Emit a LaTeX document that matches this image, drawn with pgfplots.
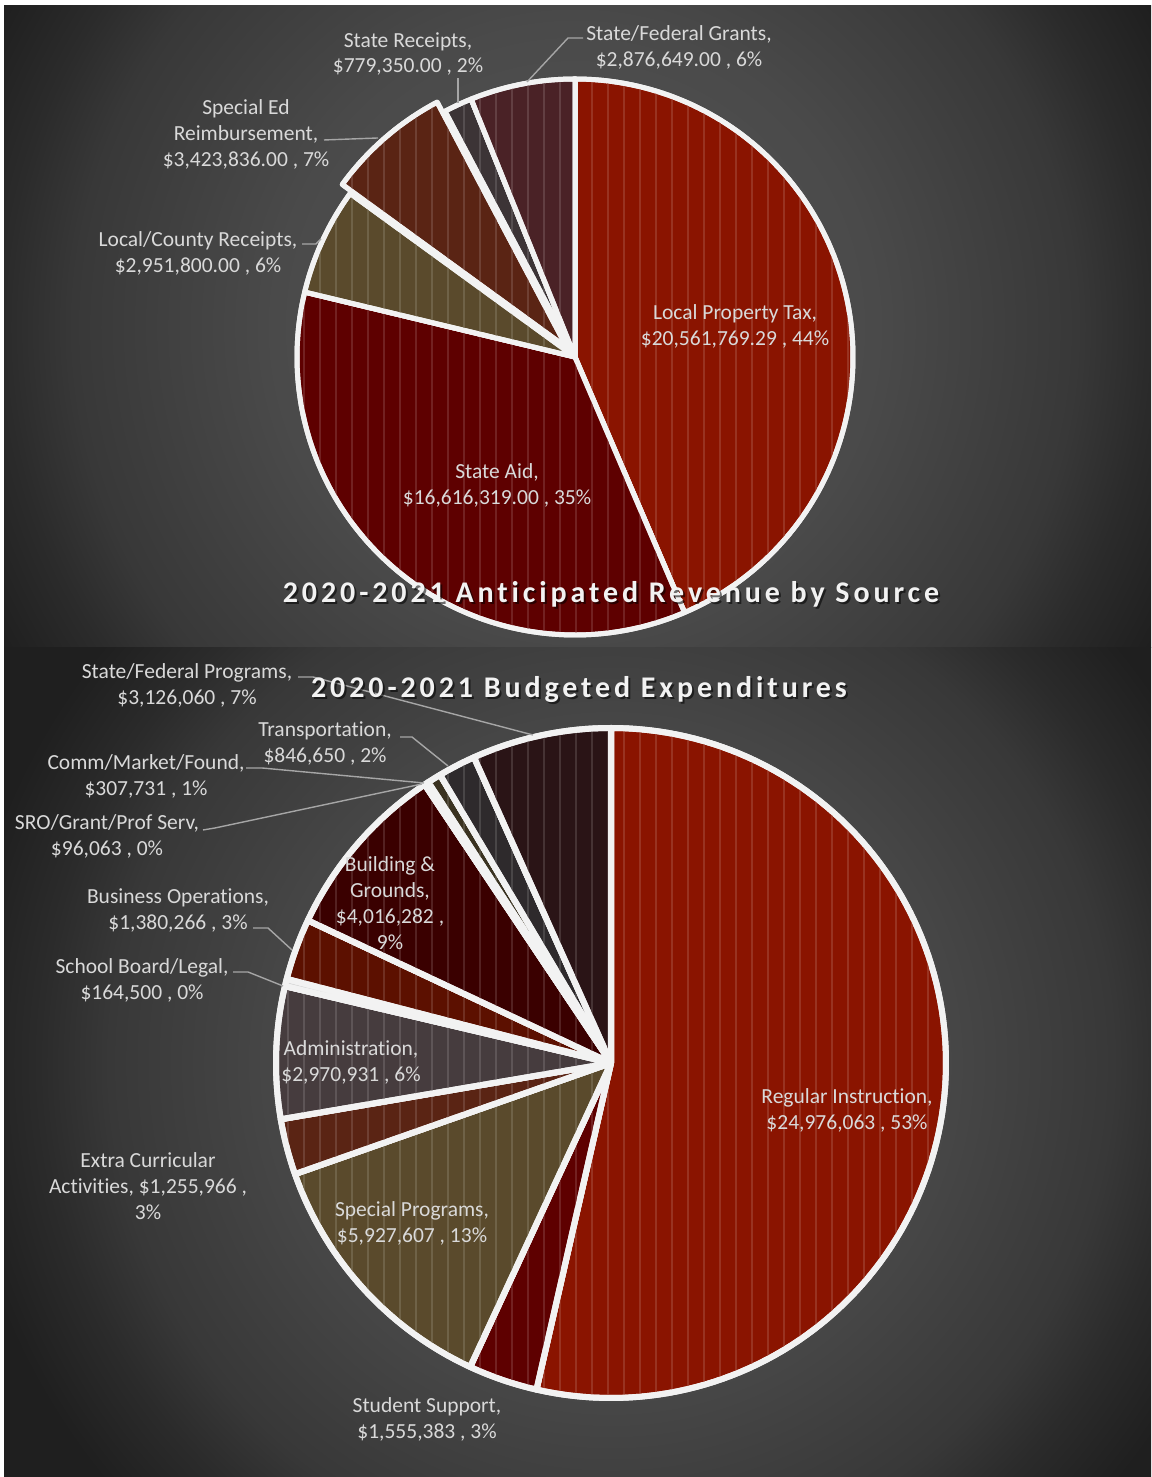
\documentclass[border=0pt]{standalone}
\usepackage{fontspec}
\setmainfont{Carlito}[Ligatures=NoCommon]
\usepackage{pgfplots}
\pgfplotsset{compat=1.18}
\usetikzlibrary{patterns.meta}
\definecolor{lbl}{HTML}{D9D9D9}
\definecolor{lead}{HTML}{A6A6A6}
\definecolor{edge}{HTML}{F2F2F2}
\definecolor{bgA}{HTML}{575757}
\definecolor{bgB}{HTML}{4A4A4A}
\definecolor{bgC}{HTML}{383838}
\definecolor{bgC2}{HTML}{2B2B2B}
\definecolor{bgD}{HTML}{1F1F1F}
\definecolor{cRed}{HTML}{8A1400}
\definecolor{cDRed}{HTML}{5E0000}
\definecolor{cOlive}{HTML}{5A4A2C}
\definecolor{cBrown}{HTML}{5A2414}
\definecolor{cGray}{HTML}{3C3436}
\definecolor{cMauve}{HTML}{4A2226}
\definecolor{cAdm}{HTML}{463C3E}
\definecolor{cBO}{HTML}{5C1000}
\definecolor{cBG}{HTML}{3A0000}
\definecolor{cDOlive}{HTML}{3A3220}
\definecolor{cTr}{HTML}{2E2A2C}
\definecolor{cSFP}{HTML}{2A1416}
\definecolor{cSB}{HTML}{D8D8D8}
\pgfdeclareradialshading{bgshade}{\pgfpointorigin}{color(0bp)=(bgA); color(300bp)=(bgB); color(500bp)=(bgC); color(570bp)=(bgC2); color(655bp)=(bgD); color(780bp)=(bgD)}

\newcommand\resetpie[5]{\def\cum{0}\edef\tot{\fpeval{#1}}\def\pcx{#2}\def\pcy{#3}\def\pr{#4}\def\pw{#5}}
\newcommand\slice[3]{% colour, value, explode
  \edef\sa{\fpeval{360*\cum/\tot}}%
  \edef\cum{\fpeval{\cum+#2}}%
  \edef\sb{\fpeval{360*\cum/\tot}}%
  \edef\sm{\fpeval{(\sa+\sb)/2}}%
  \edef\ox{\fpeval{\pcx+#3*sind(\sm)}}%
  \edef\oy{\fpeval{\pcy+#3*cosd(\sm)}}%
  \edef\doit{\noexpand\addplot[preaction={fill=#1}, pattern={Lines[angle=90,distance=16pt,line width=2.2pt]}, pattern color=#1!87!white, draw=edge, line width=\pw pt, line join=round, domain=\sa:\sb, samples=120] ({\ox+\pr*sin(x)},{\oy+\pr*cos(x)}) -- (axis cs:\ox,\oy) -- cycle;}%
  \doit}

\tikzset{lab/.style={text=lbl, font=\fontsize{21.5}{26}\selectfont, align=center, inner sep=0pt},
  ttl/.style={font=\fontsize{30}{34}\selectfont\bfseries\addfontfeatures{LetterSpace=13}, inner sep=0pt},
  ld/.style={draw=lead, line width=1.4pt}}

\begin{document}
\begin{tikzpicture}[x=1pt,y=1pt]
\fill[white] (0,0) rectangle (1151,1477);
\fill[bgD] (4,0) rectangle (1151,1471);
\begin{scope}
\clip (4,829) rectangle (1151,1471);
\pgftransformshift{\pgfpoint{575pt}{1150pt}}\pgflowlevelsynccm
\pgfuseshading{bgshade}
\end{scope}
\begin{scope}
\clip (4,0) rectangle (1151,829);
\pgftransformshift{\pgfpoint{611pt}{414pt}}\pgflowlevelsynccm
\pgfuseshading{bgshade}
\end{scope}
\begin{axis}[at={(0,0)}, anchor=south west, width=1151pt, height=1477pt, scale only axis,
  xmin=0, xmax=1151, ymin=0, ymax=1477, hide axis, clip=false]
% ---- Revenue ----
\resetpie{20561769.29+16616319.00+2951800.00+3423836.00+779350.00+2876649.00}{575}{1120}{278}{5}
\slice{cRed}{20561769.29}{0}
\slice{cDRed}{16616319.00}{0}
\slice{cOlive}{2951800.00}{0}
\slice{cBrown}{3423836.00}{12}
\slice{cGray}{779350.00}{0}
\slice{cMauve}{2876649.00}{0}
% ---- Expenditures ----
\resetpie{24976063+1555383+5927607+1255966+2970931+164500+1380266+4016282+96063+307731+846650+3126060}{611}{414}{335}{6}
\slice{cRed}{24976063}{0}
\slice{cDRed}{1555383}{0}
\slice{cOlive}{5927607}{0}
\slice{cBrown}{1255966}{0}
\slice{cAdm}{2970931}{0}
\slice{cSB}{164500}{0}
\slice{cBO}{1380266}{0}
\slice{cBG}{4016282}{0}
\slice{cDOlive}{96063}{0}
\slice{cDOlive}{307731}{0}
\slice{cTr}{846650}{0}
\slice{cSFP}{3126060}{0}
% leader lines
\draw[ld] (axis cs:302,1233) -- (axis cs:316,1233) -- (axis cs:321,1238);
\draw[ld] (axis cs:324,1337) -- (axis cs:378,1339);
\draw[ld] (axis cs:458,1399) -- (axis cs:458,1374);
\draw[ld] (axis cs:583,1439) -- (axis cs:568,1439) -- (axis cs:527,1395);
\draw[ld] (axis cs:298,800) -- (axis cs:313,800) -- (axis cs:533,742);
\draw[ld] (axis cs:400,740) -- (axis cs:412,740) -- (axis cs:448,711);
\draw[ld] (axis cs:246,709) -- (axis cs:262,709) -- (axis cs:424,694);
\draw[ld] (axis cs:203,647) -- (axis cs:215,649) -- (axis cs:422,693);
\draw[ld] (axis cs:253,549) -- (axis cs:268,549) -- (axis cs:292,527);
\draw[ld] (axis cs:233,505) -- (axis cs:248,505) -- (axis cs:283,491);
% labels
\node[lab] at (axis cs:735,1151) {Local Property Tax,\\\$20,561,769.29 , 44\%};
\node[lab] at (axis cs:497,992) {State Aid,\\\$16,616,319.00 , 35\%};
\node[lab] at (axis cs:198,1224) {Local/County Receipts,\\\$2,951,800.00 , 6\%};
\node[lab] at (axis cs:246,1343) {Special Ed\\Reimbursement,\\\$3,423,836.00 , 7\%};
\node[lab] at (axis cs:408,1423) {State Receipts,\\\$779,350.00 , 2\%};
\node[lab] at (axis cs:679,1430) {State/Federal Grants,\\\$2,876,649.00 , 6\%};
\node[lab] at (axis cs:187,792) {State/Federal Programs,\\\$3,126,060 , 7\%};
\node[lab] at (axis cs:325,734) {Transportation,\\\$846,650 , 2\%};
\node[lab] at (axis cs:146,701) {Comm/Market/Found,\\\$307,731 , 1\%};
\node[lab] at (axis cs:107,641) {SRO/Grant/Prof Serv,\\\$96,063 , 0\%};
\node[lab] at (axis cs:390,574) {Building \&\\Grounds,\\\$4,016,282 ,\\9\%};
\node[lab] at (axis cs:178,567) {Business Operations,\\\$1,380,266 , 3\%};
\node[lab] at (axis cs:142,497) {School Board/Legal,\\\$164,500 , 0\%};
\node[lab] at (axis cs:351,415) {Administration,\\\$2,970,931 , 6\%};
\node[lab] at (axis cs:148,291) {Extra Curricular\\Activities, \$1,255,966 ,\\3\%};
\node[lab] at (axis cs:412,254) {Special Programs,\\\$5,927,607 , 13\%};
\node[lab] at (axis cs:847,367) {Regular Instruction,\\\$24,976,063 , 53\%};
\node[lab] at (axis cs:427,58) {Student Support,\\\$1,555,383 , 3\%};
% titles
\node[ttl, text=black, opacity=0.55] at (axis cs:613,881) {2020-2021 Anticipated Revenue by Source};
\node[ttl, text=white!95!black] at (axis cs:611,883) {2020-2021 Anticipated Revenue by Source};
\node[ttl, text=black, opacity=0.55] at (axis cs:581,785) {2020-2021 Budgeted Expenditures};
\node[ttl, text=white!95!black] at (axis cs:579,787) {2020-2021 Budgeted Expenditures};
\end{axis}
\end{tikzpicture}
\end{document}
